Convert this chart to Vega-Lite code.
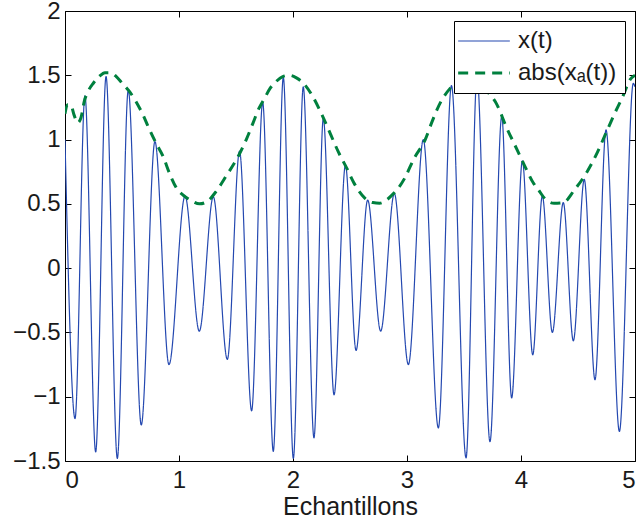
{
  "$schema": "https://vega.github.io/schema/vega-lite/v6.json",
  "width": 570,
  "height": 450,
  "autosize": {"type": "none"},
  "padding": {"left": 65, "top": 11, "right": 8, "bottom": 62},
  "background": "white",
  "config": {
    "font": "Liberation Sans",
    "view": {"stroke": null},
    "axis": {
      "grid": false,
      "domainColor": "black",
      "domainWidth": 1,
      "tickColor": "black",
      "tickSize": -6,
      "labelFont": "Liberation Sans",
      "labelFontSize": 24,
      "labelColor": "#1a1a1a",
      "titleFont": "Liberation Sans",
      "titleFontSize": 25,
      "titleFontWeight": "normal",
      "titleColor": "#1a1a1a"
    },
    "legend": {
      "orient": "top-right",
      "offset": 10,
      "fillColor": "white",
      "strokeColor": "black",
      "padding": 8,
      "labelFont": "Liberation Sans",
      "labelFontSize": 24,
      "labelColor": "#1a1a1a",
      "labelLimit": 400,
      "labelOffset": 22,
      "symbolType": "M-2.72,0L2.72,0",
      "symbolSize": 361,
      "symbolOffset": 10,
      "rowPadding": 8
    }
  },
  "datasets": {
    "sig": [
      {"t": 0.000, "v": 1.00, "series": "x(t)"},
      {"t": 0.088, "v": -1.17, "series": "x(t)"},
      {"t": 0.175, "v": 1.34, "series": "x(t)"},
      {"t": 0.269, "v": -1.43, "series": "x(t)"},
      {"t": 0.360, "v": 1.49, "series": "x(t)"},
      {"t": 0.459, "v": -1.48, "series": "x(t)"},
      {"t": 0.555, "v": 1.385, "series": "x(t)"},
      {"t": 0.669, "v": -1.22, "series": "x(t)"},
      {"t": 0.789, "v": 0.985, "series": "x(t)"},
      {"t": 0.912, "v": -0.75, "series": "x(t)"},
      {"t": 1.053, "v": 0.56, "series": "x(t)"},
      {"t": 1.178, "v": -0.49, "series": "x(t)"},
      {"t": 1.301, "v": 0.555, "series": "x(t)"},
      {"t": 1.424, "v": -0.71, "series": "x(t)"},
      {"t": 1.531, "v": 0.91, "series": "x(t)"},
      {"t": 1.637, "v": -1.11, "series": "x(t)"},
      {"t": 1.734, "v": 1.29, "series": "x(t)"},
      {"t": 1.827, "v": -1.425, "series": "x(t)"},
      {"t": 1.915, "v": 1.485, "series": "x(t)"},
      {"t": 2.003, "v": -1.48, "series": "x(t)"},
      {"t": 2.090, "v": 1.41, "series": "x(t)"},
      {"t": 2.184, "v": -1.32, "series": "x(t)"},
      {"t": 2.266, "v": 1.165, "series": "x(t)"},
      {"t": 2.360, "v": -0.985, "series": "x(t)"},
      {"t": 2.460, "v": 0.80, "series": "x(t)"},
      {"t": 2.553, "v": -0.64, "series": "x(t)"},
      {"t": 2.655, "v": 0.53, "series": "x(t)"},
      {"t": 2.769, "v": -0.49, "series": "x(t)"},
      {"t": 2.889, "v": 0.58, "series": "x(t)"},
      {"t": 3.012, "v": -0.75, "series": "x(t)"},
      {"t": 3.143, "v": 1.0, "series": "x(t)"},
      {"t": 3.275, "v": -1.243, "series": "x(t)"},
      {"t": 3.390, "v": 1.42, "series": "x(t)"},
      {"t": 3.518, "v": -1.476, "series": "x(t)"},
      {"t": 3.614, "v": 1.49, "series": "x(t)"},
      {"t": 3.728, "v": -1.35, "series": "x(t)"},
      {"t": 3.831, "v": 1.18, "series": "x(t)"},
      {"t": 3.918, "v": -1.01, "series": "x(t)"},
      {"t": 4.012, "v": 0.835, "series": "x(t)"},
      {"t": 4.103, "v": -0.674, "series": "x(t)"},
      {"t": 4.187, "v": 0.56, "series": "x(t)"},
      {"t": 4.275, "v": -0.5, "series": "x(t)"},
      {"t": 4.371, "v": 0.51, "series": "x(t)"},
      {"t": 4.459, "v": -0.565, "series": "x(t)"},
      {"t": 4.555, "v": 0.69, "series": "x(t)"},
      {"t": 4.649, "v": -0.868, "series": "x(t)"},
      {"t": 4.746, "v": 1.075, "series": "x(t)"},
      {"t": 4.863, "v": -1.27, "series": "x(t)"},
      {"t": 4.985, "v": 1.437, "series": "x(t)"},
      {"t": 5.000, "v": 1.41, "series": "x(t)"}
    ],
    "env": [
      {"t": 0.00, "v": 1.20, "series": "abs(xₐ(t))"},
      {"t": 0.02, "v": 1.27, "series": "abs(xₐ(t))"},
      {"t": 0.05, "v": 1.27, "series": "abs(xₐ(t))"},
      {"t": 0.08, "v": 1.19, "series": "abs(xₐ(t))"},
      {"t": 0.11, "v": 1.13, "series": "abs(xₐ(t))"},
      {"t": 0.14, "v": 1.17, "series": "abs(xₐ(t))"},
      {"t": 0.17, "v": 1.30, "series": "abs(xₐ(t))"},
      {"t": 0.20, "v": 1.37, "series": "abs(xₐ(t))"},
      {"t": 0.25, "v": 1.44, "series": "abs(xₐ(t))"},
      {"t": 0.30, "v": 1.49, "series": "abs(xₐ(t))"},
      {"t": 0.35, "v": 1.52, "series": "abs(xₐ(t))"},
      {"t": 0.40, "v": 1.52, "series": "abs(xₐ(t))"},
      {"t": 0.45, "v": 1.49, "series": "abs(xₐ(t))"},
      {"t": 0.50, "v": 1.44, "series": "abs(xₐ(t))"},
      {"t": 0.56, "v": 1.38, "series": "abs(xₐ(t))"},
      {"t": 0.62, "v": 1.30, "series": "abs(xₐ(t))"},
      {"t": 0.68, "v": 1.20, "series": "abs(xₐ(t))"},
      {"t": 0.74, "v": 1.08, "series": "abs(xₐ(t))"},
      {"t": 0.80, "v": 0.97, "series": "abs(xₐ(t))"},
      {"t": 0.86, "v": 0.87, "series": "abs(xₐ(t))"},
      {"t": 0.92, "v": 0.73, "series": "abs(xₐ(t))"},
      {"t": 0.98, "v": 0.62, "series": "abs(xₐ(t))"},
      {"t": 1.04, "v": 0.565, "series": "abs(xₐ(t))"},
      {"t": 1.10, "v": 0.53, "series": "abs(xₐ(t))"},
      {"t": 1.18, "v": 0.50, "series": "abs(xₐ(t))"},
      {"t": 1.25, "v": 0.52, "series": "abs(xₐ(t))"},
      {"t": 1.32, "v": 0.59, "series": "abs(xₐ(t))"},
      {"t": 1.42, "v": 0.725, "series": "abs(xₐ(t))"},
      {"t": 1.52, "v": 0.87, "series": "abs(xₐ(t))"},
      {"t": 1.59, "v": 1.00, "series": "abs(xₐ(t))"},
      {"t": 1.65, "v": 1.13, "series": "abs(xₐ(t))"},
      {"t": 1.70, "v": 1.24, "series": "abs(xₐ(t))"},
      {"t": 1.75, "v": 1.32, "series": "abs(xₐ(t))"},
      {"t": 1.80, "v": 1.40, "series": "abs(xₐ(t))"},
      {"t": 1.85, "v": 1.45, "series": "abs(xₐ(t))"},
      {"t": 1.91, "v": 1.49, "series": "abs(xₐ(t))"},
      {"t": 1.97, "v": 1.50, "series": "abs(xₐ(t))"},
      {"t": 2.03, "v": 1.48, "series": "abs(xₐ(t))"},
      {"t": 2.10, "v": 1.43, "series": "abs(xₐ(t))"},
      {"t": 2.17, "v": 1.34, "series": "abs(xₐ(t))"},
      {"t": 2.25, "v": 1.20, "series": "abs(xₐ(t))"},
      {"t": 2.33, "v": 1.04, "series": "abs(xₐ(t))"},
      {"t": 2.40, "v": 0.90, "series": "abs(xₐ(t))"},
      {"t": 2.47, "v": 0.78, "series": "abs(xₐ(t))"},
      {"t": 2.53, "v": 0.67, "series": "abs(xₐ(t))"},
      {"t": 2.57, "v": 0.61, "series": "abs(xₐ(t))"},
      {"t": 2.63, "v": 0.545, "series": "abs(xₐ(t))"},
      {"t": 2.70, "v": 0.51, "series": "abs(xₐ(t))"},
      {"t": 2.76, "v": 0.505, "series": "abs(xₐ(t))"},
      {"t": 2.82, "v": 0.53, "series": "abs(xₐ(t))"},
      {"t": 2.87, "v": 0.57, "series": "abs(xₐ(t))"},
      {"t": 2.93, "v": 0.63, "series": "abs(xₐ(t))"},
      {"t": 2.98, "v": 0.70, "series": "abs(xₐ(t))"},
      {"t": 3.06, "v": 0.85, "series": "abs(xₐ(t))"},
      {"t": 3.16, "v": 1.00, "series": "abs(xₐ(t))"},
      {"t": 3.22, "v": 1.14, "series": "abs(xₐ(t))"},
      {"t": 3.30, "v": 1.30, "series": "abs(xₐ(t))"},
      {"t": 3.38, "v": 1.40, "series": "abs(xₐ(t))"},
      {"t": 3.45, "v": 1.46, "series": "abs(xₐ(t))"},
      {"t": 3.53, "v": 1.50, "series": "abs(xₐ(t))"},
      {"t": 3.60, "v": 1.48, "series": "abs(xₐ(t))"},
      {"t": 3.70, "v": 1.38, "series": "abs(xₐ(t))"},
      {"t": 3.79, "v": 1.27, "series": "abs(xₐ(t))"},
      {"t": 3.87, "v": 1.10, "series": "abs(xₐ(t))"},
      {"t": 3.95, "v": 0.95, "series": "abs(xₐ(t))"},
      {"t": 4.03, "v": 0.80, "series": "abs(xₐ(t))"},
      {"t": 4.11, "v": 0.66, "series": "abs(xₐ(t))"},
      {"t": 4.16, "v": 0.60, "series": "abs(xₐ(t))"},
      {"t": 4.21, "v": 0.54, "series": "abs(xₐ(t))"},
      {"t": 4.29, "v": 0.505, "series": "abs(xₐ(t))"},
      {"t": 4.37, "v": 0.51, "series": "abs(xₐ(t))"},
      {"t": 4.47, "v": 0.61, "series": "abs(xₐ(t))"},
      {"t": 4.58, "v": 0.75, "series": "abs(xₐ(t))"},
      {"t": 4.67, "v": 0.90, "series": "abs(xₐ(t))"},
      {"t": 4.74, "v": 1.04, "series": "abs(xₐ(t))"},
      {"t": 4.82, "v": 1.20, "series": "abs(xₐ(t))"},
      {"t": 4.89, "v": 1.33, "series": "abs(xₐ(t))"},
      {"t": 4.96, "v": 1.47, "series": "abs(xₐ(t))"},
      {"t": 5.00, "v": 1.50, "series": "abs(xₐ(t))"}
    ]
  },
  "layer": [
    {
      "data": {"name": "sig"},
      "mark": {"type": "line", "interpolate": "monotone", "clip": true},
      "encoding": {
        "x": {"field": "t", "type": "quantitative",
              "scale": {"domain": [0, 5], "nice": false, "zero": false},
              "axis": {"orient": "bottom", "values": [0, 1, 2, 3, 4, 5], "title": "Echantillons", "labelPadding": 13, "titlePadding": 2}},
        "y": {"field": "v", "type": "quantitative",
              "scale": {"domain": [-1.5, 2], "nice": false, "zero": false},
              "axis": {"orient": "left", "values": [-1.5, -1, -0.5, 0, 0.5, 1, 1.5, 2], "format": "~g", "title": null, "labelPadding": 11}},
        "color": {"field": "series", "type": "nominal", "title": null,
                  "scale": {"domain": ["x(t)", "abs(xₐ(t))"], "range": ["#2448b0", "#00803e"]}},
        "strokeDash": {"field": "series", "type": "nominal", "title": null,
                  "scale": {"domain": ["x(t)", "abs(xₐ(t))"], "range": [[1, 0], [10, 7]]}},
        "strokeWidth": {"field": "series", "type": "ordinal", "title": null,
                  "scale": {"domain": ["x(t)", "abs(xₐ(t))"], "range": [1.2, 3]}}
      }
    },
    {
      "data": {"name": "env"},
      "mark": {"type": "line", "interpolate": "monotone", "clip": true},
      "encoding": {
        "x": {"field": "t", "type": "quantitative",
              "axis": {"orient": "top", "values": [0, 1, 2, 3, 4, 5], "labels": false, "title": null}},
        "y": {"field": "v", "type": "quantitative",
              "axis": {"orient": "right", "values": [-1.5, -1, -0.5, 0, 0.5, 1, 1.5, 2], "labels": false, "title": null}},
        "color": {"field": "series", "type": "nominal", "title": null},
        "strokeDash": {"field": "series", "type": "nominal", "title": null},
        "strokeWidth": {"field": "series", "type": "ordinal", "title": null}
      }
    }
  ],
  "resolve": {"axis": {"x": "independent", "y": "independent"}}
}
